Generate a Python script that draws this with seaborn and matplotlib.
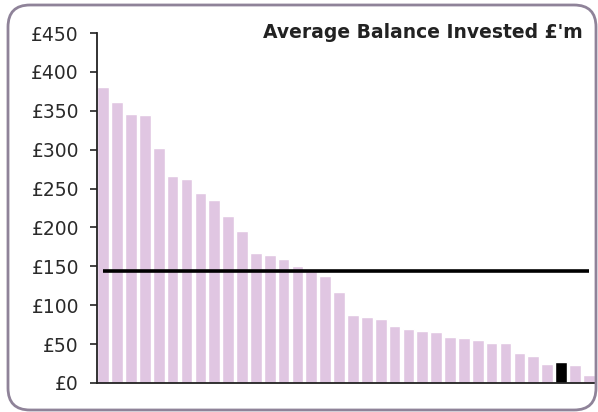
import matplotlib
matplotlib.use("Agg")
import matplotlib.pyplot as plt
from matplotlib.patches import FancyBboxPatch
import seaborn as sns
import pandas as pd

# ---- data ----
funds = [f"F{i}" for i in range(1, 37)]
balance = [380, 361, 346, 344, 302, 266, 262, 244, 235, 215, 196, 167,
           164, 160, 151, 144, 137, 117, 88, 85, 82, 73, 70, 67,
           66, 59, 58, 55, 52, 51, 39, 35, 25, 27, 23, 10]
highlight = "F34"
average = 144
yticks = [0, 50, 100, 150, 200, 250, 300, 350, 400, 450]
ytick_labels = [f"£{v}" for v in yticks]
title = "Average Balance Invested £'m"

bar_colour = "#e0c6e2"
df = pd.DataFrame({"fund": funds, "balance": balance})
palette = {f: ("#000000" if f == highlight else bar_colour) for f in funds}

sns.set_style("white")
plt.rcParams["font.family"] = ["DejaVu Sans"]

fig = plt.figure(figsize=(5.98, 4.12), dpi=100)
ax = fig.add_axes([97 / 598, 29 / 412, 498 / 598, 350 / 412])

sns.barplot(data=df, x="fund", y="balance", hue="fund", palette=palette,
            legend=False, width=0.84, saturation=1, ax=ax)

# average line from first to last bar centre
ax.plot([0, len(funds) - 1], [average, average], color="black", lw=2.6,
        solid_capstyle="butt")

ax.set_ylim(0, 450)
ax.set_xlim(-0.45, len(funds) - 1 + 0.45)
ax.set_yticks(yticks)
ax.set_yticklabels(ytick_labels, fontsize=13.5, color="#2a2a2a")
ax.set_xticks([])
ax.set_xlabel("")
ax.set_ylabel("")
ax.tick_params(axis="y", left=True, length=5, width=1.2, pad=8,
               color="#222222")
for side in ["top", "right"]:
    ax.spines[side].set_visible(False)
for side in ["left", "bottom"]:
    ax.spines[side].set_color("#222222")
    ax.spines[side].set_linewidth(1.3)

fig.text(583 / 598, 1 - 33 / 412, title, ha="right", va="center",
         fontsize=13.5, fontweight="bold", color="#222222")

# rounded frame around the chart
frame = FancyBboxPatch((8, 2), 588, 405,
                       boxstyle="round,pad=0,rounding_size=22",
                       transform=None, facecolor="none",
                       edgecolor="#8f8399", lw=2)
fig.patches.append(frame)

fig.savefig("out.png", dpi=100)
